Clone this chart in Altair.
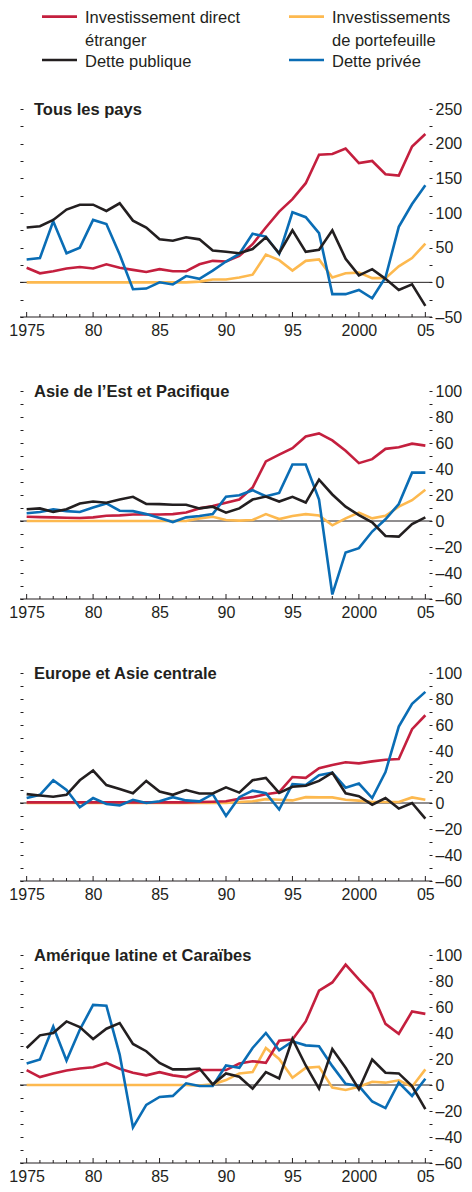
import altair as alt
import pandas as pd

FONT = "Liberation Sans, Arial, Helvetica, sans-serif"
INK = "#231f20"

years = list(range(1975, 2006))

series_names = ["Investissement direct étranger", "Investissements de portefeuille",
                "Dette publique", "Dette privée"]
legend_line1 = ["Investissement direct", "Investissements", "Dette publique", "Dette privée"]
legend_line2 = ["étranger", "de portefeuille", "", ""]
series_colors = ["#c41f3e", "#fdb94f", "#231f20", "#0a6db5"]

titles = ["Tous les pays", "Asie de l\u2019Est et Pacifique",
          "Europe et Asie centrale", "Amérique latine et Caraïbes"]

# Tous les pays
fdi_1 = [21, 13, 16, 20, 22, 20, 26, 21, 18, 15, 19, 16, 16, 26, 31, 30, 38, 55, 79, 102,
         120, 143, 184, 185, 193, 172, 175, 156, 154, 196, 214]
port_1 = [0, 0, 0, 0, 0, 0, 0, 0, 0, 0, 0, 0, 0, 1, 4, 4, 7, 11, 40, 32,
          17, 31, 33, 7, 13, 14, 6, 6, 23, 35, 56]
pub_1 = [79, 81, 90, 105, 112, 112, 103, 114, 89, 79, 62, 60, 65, 62, 46, 44, 42, 48, 65, 42,
         75, 44, 47, 75, 34, 10, 19, 5, -11, -3, -34]
priv_1 = [33, 35, 88, 42, 50, 90, 84, 40, -10, -9, 0, -3, 9, 5, 17, 30, 41, 70, 66, 41,
          101, 94, 71, -17, -17, -11, -23, 7, 80, 113, 140]

# Asie de l'Est et Pacifique
fdi_2 = [3.3, 3, 2.8, 2.5, 2.3, 2.8, 4, 4.3, 5, 5, 5, 5.3, 6.6, 9.7, 11.5, 14, 16.5, 25.7, 45.8, 51,
         56, 65, 67.4, 62, 54, 44.5, 47.6, 55.5, 56.7, 59.5, 58]
port_2 = [0, 0, 0, 0, 0, 0, 0, 0, 0, 0, 0, 0, 0, 2, 3.3, 0.8, 0.3, 0.8, 5.3, 1.5,
          3.8, 5.3, 4.3, -3.3, 2, 6.4, 2, 4, 11, 16, 24]
pub_2 = [9, 9.7, 7, 9, 13.5, 15, 14, 16.5, 18.6, 13.2, 13, 12.5, 12.5, 9.7, 11, 6.4, 9.7, 16.5, 18.8, 15,
         18.6, 14.2, 31.8, 20.4, 11, 4.6, -1, -11.5, -12, -2.3, 2.8]
priv_2 = [5.9, 6.9, 8.9, 7.6, 6.9, 10.4, 13.5, 7.9, 7.6, 5.3, 2.3, -0.8, 2.8, 3.8, 5.3, 18.6, 19.8, 23.7, 19, 21.6,
          43.5, 43.5, 16.5, -56.5, -24.2, -20.9, -8.1, 1.3, 13, 37.2, 37.2]

# Europe et Asie centrale
fdi_3 = [0.5, 0.5, 0.5, 0.5, 0.5, 0.5, 0.5, 0.5, 0.5, 0.5, 0.5, 0.5, 0.5, 0.8, 1, 1.3, 3.3, 4.5, 6.8, 8.3,
         20, 19.3, 26.8, 29.3, 31.3, 30.5, 32, 33.3, 33.8, 56.8, 67.5]
port_3 = [0, 0, 0, 0, 0, 0, 0, 0, 0, 0, 0, 0, 0, 0, 0, 0, 0.8, 1.3, 3, 2.5,
          2, 4.5, 4.3, 4.3, 2.5, 1.8, 0.8, 0.8, 0.8, 4.3, 2.5]
pub_3 = [6.8, 5.8, 4.8, 6.3, 17.5, 25, 13.8, 10.8, 7.5, 17, 8.8, 6.3, 10, 7.3, 7.3, 12, 8, 17.5, 19.3, 7.8,
         12.5, 13.3, 17, 23.3, 7.5, 5.3, -1.3, 3.8, -4.3, 0, -12]
priv_3 = [3.8, 6.3, 17.5, 10, -3.3, 3.8, -0.8, -1.8, 2.5, 0, 1.3, 4.5, 2, 1.3, 6.8, -10, 4.5, 9.5, 7.5, -5,
          14.5, 13.8, 21.3, 23.3, 11.8, 15, 3.8, 23.8, 58.8, 76.3, 85.5]

# Amérique latine et Caraïbes
fdi_4 = [11.5, 6.1, 8.9, 11.2, 12.7, 13.7, 17, 12.5, 9.4, 7.4, 9.9, 7.4, 6.1, 11.5, 11.5, 11.5, 16.5, 18.3, 17, 34,
         34.9, 48.9, 72.5, 78.9, 92.6, 81.2, 70.5, 47, 39.4, 56.5, 54.7]
port_4 = [0, 0, 0, 0, 0, 0, 0, 0, 0, 0, 0, 0, 0, -0.5, 0.5, 3.8, 8.9, 9.9, 28.5, 20,
          5.6, 13.2, 14, -2, -3.8, -1.3, 2.5, 1.8, 3.6, -1.3, 12]
pub_4 = [28.5, 38.2, 40, 48.9, 44.5, 35.4, 43.3, 47.6, 31.6, 26, 17, 12, 12, 12.7, 0.5, 8.9, 6.4, -2.8, 9.9, 5.1,
         35.4, 15, -2.8, 27.7, 13.2, -3.3, 19.6, 9.4, 8.9, -0.8, -18.6]
priv_4 = [16.5, 19.6, 45, 18.8, 42.5, 61.6, 61, 23.4, -32.6, -15.3, -9.2, -8.4, 1.3, -0.8, -0.8, 15, 13.2, 28.5, 40, 26.7,
          33.6, 30.5, 29.8, 14.5, 1, -0.8, -12.7, -17.8, 1.8, -8.4, 4.8]

W = 412
H = 208
LABEL_SIZE = 16

x_scale = alt.Scale(domain=[1974.5, 2005.5], nice=False, zero=False)
x_axis = alt.Axis(values=[1975, 1980, 1985, 1990, 1995, 2000, 2005],
                  labelExpr="datum.value == 1975 || datum.value == 2000 ? format(datum.value, 'd') : slice(format(datum.value, 'd'), 2)",
                  ticks=False, tickSize=0, domain=False, grid=False, labelPadding=5,
                  labelOverlap=False, labelFlush=False, title=None)


def panel(title, fdi, port, pub, priv, ymin, ymax, step, lstep):
    # draw order: portfolio, FDI, private, public (public on top)
    order = [(series_names[1], port), (series_names[0], fdi),
             (series_names[3], priv), (series_names[2], pub)]
    rows = []
    for name, vals in order:
        for yr, v in zip(years, vals):
            rows.append({"year": yr, "value": v, "series": name})
    df = pd.DataFrame(rows)

    yvals = list(range(ymin, ymax + 1, step))
    y_scale = alt.Scale(domain=[ymin, ymax], nice=False, zero=False)
    y_right = alt.Axis(orient="right", values=yvals,
                       labelExpr=f"datum.value % {lstep} == 0 ? (datum.value < 0 ? '\u2013' + format(-datum.value, 'd') : format(datum.value, 'd')) : ''",
                       domain=False, grid=False, tickSize=3, offset=-3, labelPadding=3,
                       labelOverlap=False, title=None)
    y_left = alt.Axis(orient="left", values=yvals, labels=False, domain=False, grid=False,
                      tickSize=3, offset=-3, title=None)

    X = alt.X("year:Q", scale=x_scale, axis=x_axis)

    zero = alt.Chart(pd.DataFrame({"v": [0]})).mark_rule(color=INK, strokeWidth=1).encode(
        y=alt.Y("v:Q", scale=y_scale, axis=y_left))

    lines = alt.Chart(df).mark_line(strokeWidth=2.6, strokeJoin="miter").encode(
        x=X,
        y=alt.Y("value:Q", scale=y_scale, axis=y_right),
        color=alt.Color("series:N", scale=alt.Scale(domain=series_names, range=series_colors), legend=None),
        detail="series:N",
    )

    tick_df = pd.DataFrame({"year": years})
    minor_ticks = alt.Chart(tick_df).transform_filter("datum.year % 5 != 0").mark_rule(
        color=INK, strokeWidth=1).encode(x=X, y=alt.value(H - 3), y2=alt.value(H))
    major_ticks = alt.Chart(tick_df).transform_filter("datum.year % 5 == 0").mark_rule(
        color=INK, strokeWidth=1).encode(x=X, y=alt.value(H - 5), y2=alt.value(H))
    baseline = alt.Chart(pd.DataFrame({"a": [0]})).mark_rule(color=INK, strokeWidth=1).encode(
        x=alt.value(0), x2=alt.value(W), y=alt.value(H))

    title_txt = alt.Chart(pd.DataFrame({"t": [title]})).mark_text(
        align="left", baseline="middle", font=FONT, fontSize=16.5, fontWeight="bold", color=INK
    ).encode(x=alt.value(14), y=alt.value(1), text="t:N")

    return alt.layer(zero, lines, minor_ticks, major_ticks, baseline, title_txt).resolve_axis(
        y="independent").properties(width=W, height=H)


p1 = panel(titles[0], fdi_1, port_1, pub_1, priv_1, -50, 250, 25, 50)
p2 = panel(titles[1], fdi_2, port_2, pub_2, priv_2, -60, 100, 10, 20)
p3 = panel(titles[2], fdi_3, port_3, pub_3, priv_3, -60, 100, 10, 20)
p4 = panel(titles[3], fdi_4, port_4, pub_4, priv_4, -60, 100, 10, 20)

# legend
leg_df = pd.DataFrame({"l1": legend_line1, "l2": legend_line2, "series": series_names,
                       "col": [0, 1, 0, 1], "row": [0, 0, 1, 1]})
lx = alt.X("col:Q", scale=alt.Scale(domain=[0, 1], range=[22, 269]), axis=None)
ly_text = alt.Y("row:Q", scale=alt.Scale(domain=[0, 1], range=[15.3, 58.7]), axis=None)
ly_rule = alt.Y("row:Q", scale=alt.Scale(domain=[0, 1], range=[8.6, 52.0]), axis=None)
leg_color = alt.Color("series:N", scale=alt.Scale(domain=series_names, range=series_colors), legend=None)
leg_lines = alt.Chart(leg_df).mark_rule(strokeWidth=2.6, x2Offset=35).encode(
    x=lx, x2="col:Q", y=ly_rule, y2="row:Q", color=leg_color)
leg_text1 = alt.Chart(leg_df).mark_text(
    align="left", baseline="alphabetic", dx=43, font=FONT, fontSize=16.5, color=INK
).encode(x=lx, y=ly_text, text="l1:N")
leg_text2 = alt.Chart(leg_df).transform_filter("datum.l2 != ''").mark_text(
    align="left", baseline="alphabetic", dx=43, dy=23, font=FONT, fontSize=16.5, color=INK
).encode(x=lx, y=ly_text, text="l2:N")
legend = alt.layer(leg_lines, leg_text1, leg_text2).resolve_scale(y="independent").properties(
    width=W, height=64)

panels = alt.vconcat(p1, p2, p3, p4, spacing=45)

chart = alt.vconcat(legend, panels, spacing=29).properties(
    padding={"left": 0, "top": 0, "right": 0, "bottom": 0}
).configure(background="white").configure_view(stroke=None).configure_axis(
    labelFont=FONT, labelFontSize=LABEL_SIZE, labelColor=INK, tickColor=INK, tickWidth=1
)

chart.save("out.html", embed_options={"renderer": "svg", "actions": False})
